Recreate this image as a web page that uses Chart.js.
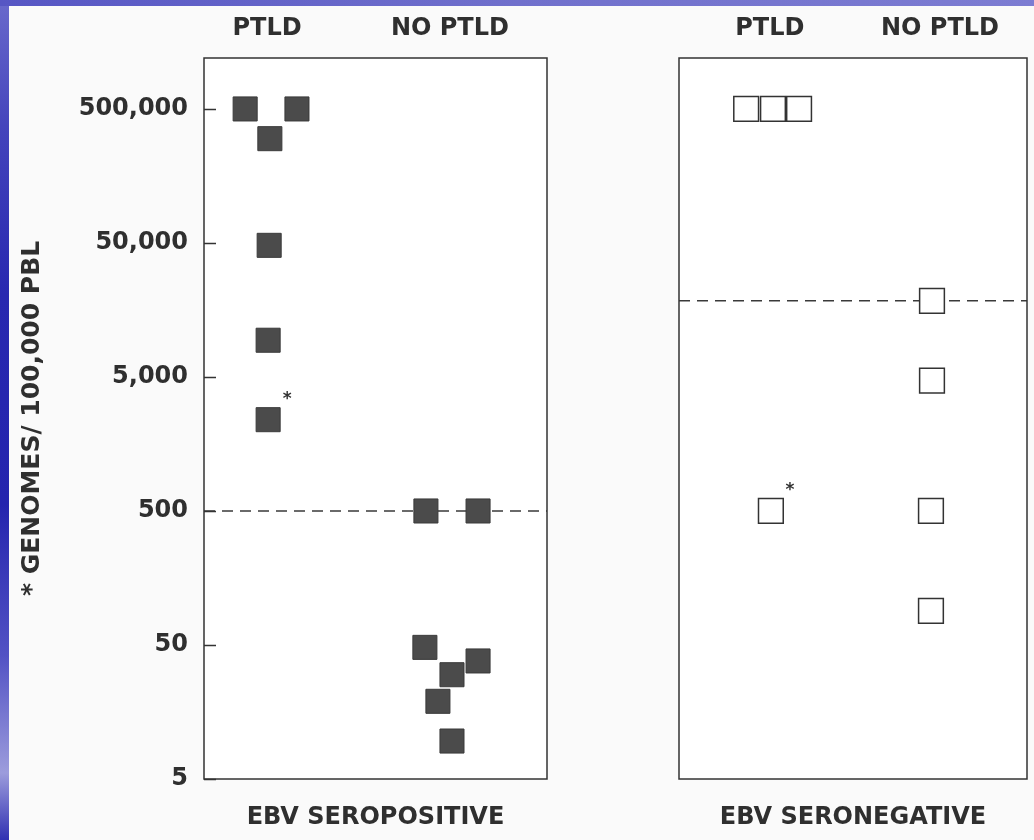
<!DOCTYPE html>
<html>
<head>
<meta charset="utf-8">
<script src="https://cdn.jsdelivr.net/npm/chart.js@4.4.1/dist/chart.umd.min.js"></script>
<style>
  html, body { margin: 0; padding: 0; }
  body { width: 1034px; height: 840px; background: #fafafa; position: relative; overflow: hidden; }
  #edgeLeft { position: absolute; left: 0; top: 0; width: 9px; height: 840px; z-index: 2;
    background: linear-gradient(to bottom, #6a6acc 0%, #4444bc 15%, #2828b0 35%, #2424ae 60%, #5252c4 78%, #9c9cdc 92%, #3030b2 100%); }
  #edgeTop { position: absolute; left: 0; top: 0; width: 1034px; height: 6px; z-index: 2;
    background: linear-gradient(to right, #5656c4, #7070cc 50%, #7c7cd2); }
  #leftBox { position: absolute; left: 0; top: 0; }
  #rightBox { position: absolute; left: 560px; top: 0; }
</style>
</head>
<body>
<div id="edgeLeft"></div>
<div id="edgeTop"></div>
<canvas id="leftBox" width="560" height="840"></canvas>
<canvas id="rightBox" width="474" height="840"></canvas>
<script>
// column headings and y axis (log) ticks
const groups = ['PTLD', 'NO PTLD'];
const yTicks = [5, 50, 500, 5000, 50000, 500000];
const yMin = 5;
const yMax = 1200000;

// EBV seropositive (filled squares); x = jittered position inside the panel, 0..10
const posGroupX = [1.84, 7.17];
const posPtldX = [1.2, 1.92, 2.71, 1.9, 1.87, 1.87];
const posPtldY = [500000, 300000, 500000, 48000, 9400, 2400];
const posPtldStar = [false, false, false, false, false, true];
const posNoPtldX = [6.47, 7.99, 6.44, 7.99, 7.23, 6.82, 7.23];
const posNoPtldY = [500, 500, 48, 38, 30, 19, 9.6];
const posCutoff = 500;

// EBV seronegative (open squares)
const negGroupX = [2.61, 7.5];
const negPtldX = [1.93, 2.7, 3.45, 2.64];
const negPtldY = [500000, 500000, 500000, 500];
const negPtldStar = [false, false, false, true];
const negNoPtldX = [7.27, 7.27, 7.24, 7.24];
const negNoPtldY = [18500, 4700, 500, 90];
const negCutoff = 18500;

const ink = '#2f2f2f';
const bigFont = { family: 'DejaVu Sans', size: 24, weight: 'bold' };
Chart.defaults.font.family = 'DejaVu Sans';

function pts(xs, ys) {
  return xs.map((x, i) => ({ x: x, y: ys[i] }));
}

const panelBox = {
  id: 'panelBox',
  beforeDatasetsDraw(chart) {
    const a = chart.chartArea, ctx = chart.ctx;
    ctx.save();
    ctx.fillStyle = '#ffffff';
    ctx.fillRect(a.left, a.top, a.right - a.left, a.bottom - a.top);
    ctx.restore();
  },
  afterDraw(chart) {
    const a = chart.chartArea, ctx = chart.ctx;
    ctx.save();
    ctx.strokeStyle = '#333';
    ctx.lineWidth = 1.5;
    ctx.strokeRect(a.left, a.top, a.right - a.left, a.bottom - a.top);
    // short tick marks pointing into the panel
    if (chart.options.plugins.panelBox.ticks) {
      const y = chart.scales.y;
      ctx.beginPath();
      yTicks.forEach(v => {
        const py = Math.round(y.getPixelForValue(v)) + 0.5;
        ctx.moveTo(a.left, py);
        ctx.lineTo(a.left + 12, py);
      });
      ctx.stroke();
    }
    // asterisks next to flagged points
    chart.data.datasets.forEach((ds, di) => {
      if (!ds.stars) return;
      const meta = chart.getDatasetMeta(di);
      ds.stars.forEach((s, i) => {
        if (!s) return;
        const el = meta.data[i];
        ctx.fillStyle = '#333';
        ctx.font = 'bold 17px "DejaVu Sans"';
        ctx.textAlign = 'center';
        ctx.textBaseline = 'middle';
        ctx.fillText('*', el.x + 19, el.y - 20);
      });
    });
    ctx.restore();
  }
};

function noSidePadding(s) {
  s.paddingLeft = 0;
  s.paddingRight = 0;
}

function makePanel(id, cfg) {
  const datasets = [
    {
      type: 'line',
      data: [{ x: 0, y: cfg.cutoff }, { x: 10, y: cfg.cutoff }],
      borderColor: '#3a3a3a',
      borderWidth: 1.5,
      borderDash: [11, 7],
      pointRadius: 0,
      order: 3
    },
    {
      data: pts(cfg.ptldX, cfg.ptldY),
      stars: cfg.ptldStar,
      pointStyle: 'rect',
      pointRadius: cfg.radius,
      backgroundColor: cfg.fill,
      borderColor: cfg.edge,
      borderWidth: cfg.edgeWidth,
      order: 1
    },
    {
      data: pts(cfg.noX, cfg.noY),
      pointStyle: 'rect',
      pointRadius: cfg.radius,
      backgroundColor: cfg.fill,
      borderColor: cfg.edge,
      borderWidth: cfg.edgeWidth,
      order: 1
    }
  ];

  return new Chart(document.getElementById(id), {
    type: 'scatter',
    data: { datasets: datasets },
    plugins: [panelBox],
    options: {
      responsive: false,
      animation: false,
      layout: { padding: cfg.padding, autoPadding: false },
      plugins: {
        legend: { display: false },
        tooltip: { enabled: false },
        panelBox: { ticks: cfg.showY }
      },
      scales: {
        x: {
          type: 'linear', position: 'bottom', min: 0, max: 10,
          ticks: { display: false },
          grid: { display: false, drawTicks: false },
          border: { display: false },
          title: { display: true, text: cfg.caption, color: ink, font: bigFont, padding: { top: 0, bottom: 8 } },
          afterFit: s => { s.height = 61; noSidePadding(s); }
        },
        xTop: {
          type: 'linear', position: 'top', min: 0, max: 10,
          afterBuildTicks: s => { s.ticks = cfg.groupX.map(v => ({ value: v })); },
          ticks: { callback: (v, i) => groups[i], color: ink, font: bigFont, padding: 15, autoSkip: false, maxRotation: 0 },
          grid: { display: false, drawTicks: false },
          border: { display: false },
          afterFit: s => { s.height = 58; noSidePadding(s); }
        },
        y: {
          type: 'logarithmic', min: yMin, max: yMax,
          display: cfg.showY,
          afterBuildTicks: s => { s.ticks = yTicks.map(v => ({ value: v })); },
          ticks: { callback: v => v.toLocaleString('en-US'), color: ink, font: bigFont, padding: 16, autoSkip: false },
          grid: { display: false, drawTicks: false },
          border: { display: false },
          title: { display: true, text: '* GENOMES/ 100,000 PBL', color: ink, font: { family: 'DejaVu Sans', size: 25, weight: 'bold' }, padding: { top: 17, bottom: 0 } },
          afterFit: s => { s.width = cfg.showY ? 204 : 0; }
        }
      }
    }
  });
}

makePanel('leftBox', {
  caption: 'EBV SEROPOSITIVE',
  groupX: posGroupX,
  ptldX: posPtldX, ptldY: posPtldY, ptldStar: posPtldStar,
  noX: posNoPtldX, noY: posNoPtldY,
  cutoff: posCutoff,
  radius: 17,
  fill: '#4b4b4b', edge: '#3a3a3a', edgeWidth: 1,
  showY: true,
  padding: { left: 0, right: 13, top: 0, bottom: 0 }
});

makePanel('rightBox', {
  caption: 'EBV SERONEGATIVE',
  groupX: negGroupX,
  ptldX: negPtldX, ptldY: negPtldY, ptldStar: negPtldStar,
  noX: negNoPtldX, noY: negNoPtldY,
  cutoff: negCutoff,
  radius: 17.5,
  fill: '#ffffff', edge: '#333333', edgeWidth: 1.5,
  showY: false,
  padding: { left: 119, right: 7, top: 0, bottom: 0 }
});
</script>
</body>
</html>
